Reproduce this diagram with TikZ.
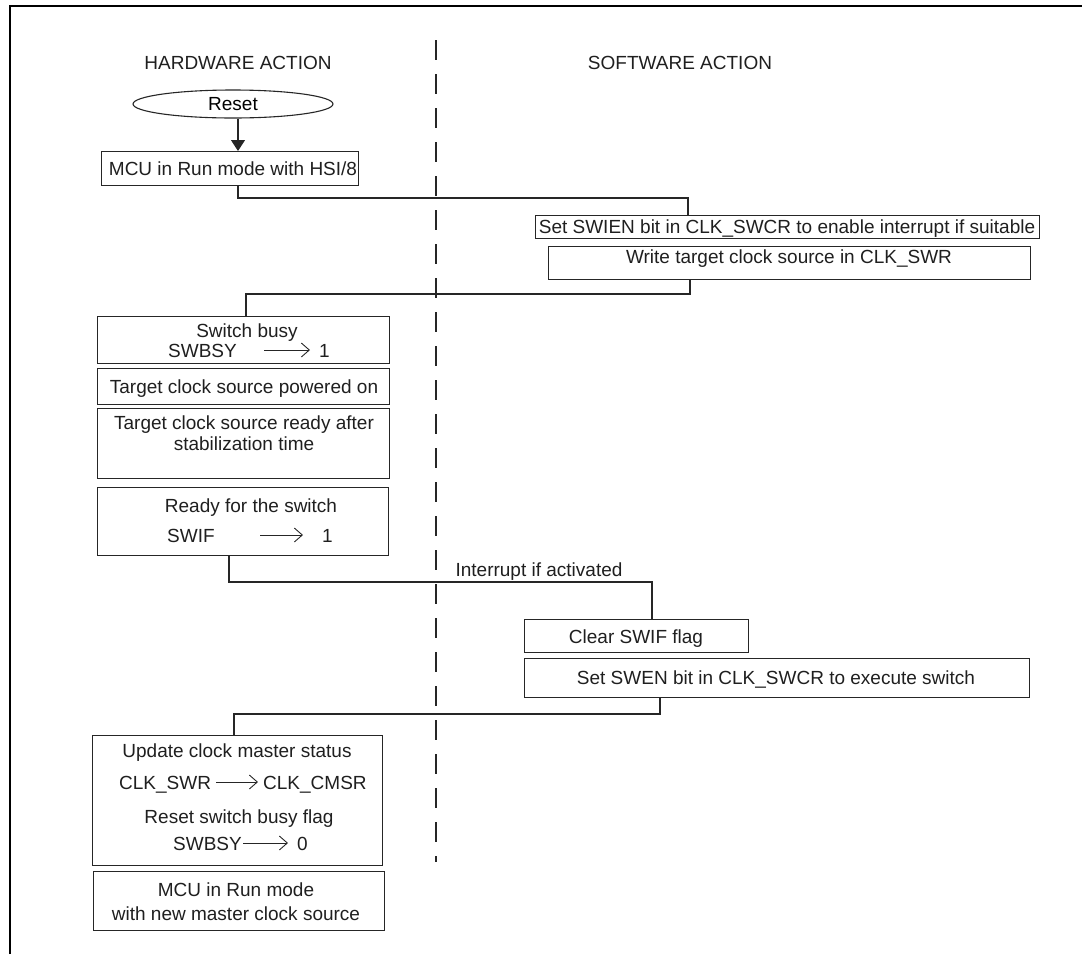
\documentclass[tikz,border=0pt]{standalone}
\usepackage{fontspec}
\setmainfont{Liberation Sans}
\usetikzlibrary{arrows.meta,shapes.geometric}
\begin{document}
\begin{tikzpicture}[x=1pt,y=-1pt,
  box/.style={draw=black!85, line width=1.1pt, anchor=north west, inner sep=0pt},
  txt/.style={font=\fontsize{19}{22}\selectfont, text=black!88, inner sep=0pt, anchor=base},
  txtw/.style={txt, anchor=base west},
  conn/.style={draw=black!85, line width=1.1pt},
  inarr/.style={draw=black!85, line width=0.9pt, -{Straight Barb[length=8pt,width=14pt,line width=0.9pt]}},
]
\useasboundingbox (0,0) rectangle (1082,954);
\draw[line width=1.8pt] (10,954) -- (10,6) -- (1082,6);

% headings
\node[txt] (hw) at (238,69) {HARDWARE ACTION};
\node[txt] (sw) at (680,69) {SOFTWARE ACTION};
\draw[draw=black!85, line width=1.1pt, dash pattern=on 20pt off 14pt] (436,40) -- (436,862);

% reset
\node[draw=black!85, line width=1.1pt, ellipse, minimum width=200, minimum height=28, inner sep=0pt,
      font=\fontsize{19}{22}\selectfont] (reset) at (233,104) {Reset};

% boxes
\node[box, minimum width=257, minimum height=34] (a) at (101,151) {};
\node[txt] (ta) at (233,175) {MCU in Run mode with HSI/8};

\node[box, minimum width=504, minimum height=23] (b) at (535,215) {};
\node[txt] (tb) at (787,233) {Set SWIEN bit in CLK\_SWCR to enable interrupt if suitable};

\node[box, minimum width=482, minimum height=33] (c) at (548,246) {};
\node[txt] (tc) at (789,263) {Write target clock source in CLK\_SWR};

\node[box, minimum width=292, minimum height=47] (d) at (97,316) {};
\node[txt] (td1) at (247,337) {Switch busy};
\node[txtw] (td2) at (168,357) {SWBSY};
\node[txtw] (td3) at (319,357) {1};
\draw[inarr] (264,350) -- (310,350);

\node[box, minimum width=292, minimum height=36] (e) at (97,368) {};
\node[txt] (te) at (244,393) {Target clock source powered on};

\node[box, minimum width=292, minimum height=70] (f) at (97,408) {};
\node[txt] (tf1) at (244,429) {Target clock source ready after};
\node[txt] (tf2) at (244,450) {stabilization time};

\node[box, minimum width=291, minimum height=68] (g) at (97,487) {};
\node[txt] (tg1) at (251,512) {Ready for the switch};
\node[txtw] (tg2) at (167,542) {SWIF};
\node[txtw] (tg3) at (322,542) {1};
\draw[inarr] (260,535) -- (303,535);

\node[txt] (int) at (539,576) {Interrupt if activated};

\node[box, minimum width=224, minimum height=33] (h) at (524,619) {};
\node[txt] (th) at (636,643) {Clear SWIF flag};

\node[box, minimum width=505, minimum height=39] (i) at (524,658) {};
\node[txt] (ti) at (776,684) {Set SWEN bit in CLK\_SWCR to execute switch};

\node[box, minimum width=290, minimum height=130] (j) at (92,735) {};
\node[txt] (tj1) at (237,757) {Update clock master status};
\node[txtw] (tj2) at (119,789) {CLK\_SWR};
\node[txtw] (tj3) at (263,789) {CLK\_CMSR};
\draw[inarr] (216,782) -- (258,782);
\node[txt] (tj4) at (239,823) {Reset switch busy flag};
\node[txtw] (tj5) at (173,850) {SWBSY};
\node[txtw] (tj6) at (297,850) {0};
\draw[inarr] (243,843) -- (288,843);

\node[box, minimum width=291, minimum height=59] (k) at (93,871) {};
\node[txt] (tk1) at (236,896) {MCU in Run mode};
\node[txt] (tk2) at (236,920) {with new master clock source};

% connectors
\draw[conn, -{Triangle[length=11pt,width=14pt]}] (reset.south -| 238,0) -- (a.north -| 238,0);
\draw[conn] (a.south -| 238,0) -- (238,198) -- (688,198) -- (b.north -| 688,0);
\draw[conn] (c.south -| 690,0) -- (690,294) -- (246,294) -- (d.north -| 246,0);
\draw[conn] (g.south -| 229,0) -- (229,582) -- (652,582) -- (h.north -| 652,0);
\draw[conn] (i.south -| 660,0) -- (660,714) -- (234,714) -- (j.north -| 234,0);
\end{tikzpicture}
\end{document}
